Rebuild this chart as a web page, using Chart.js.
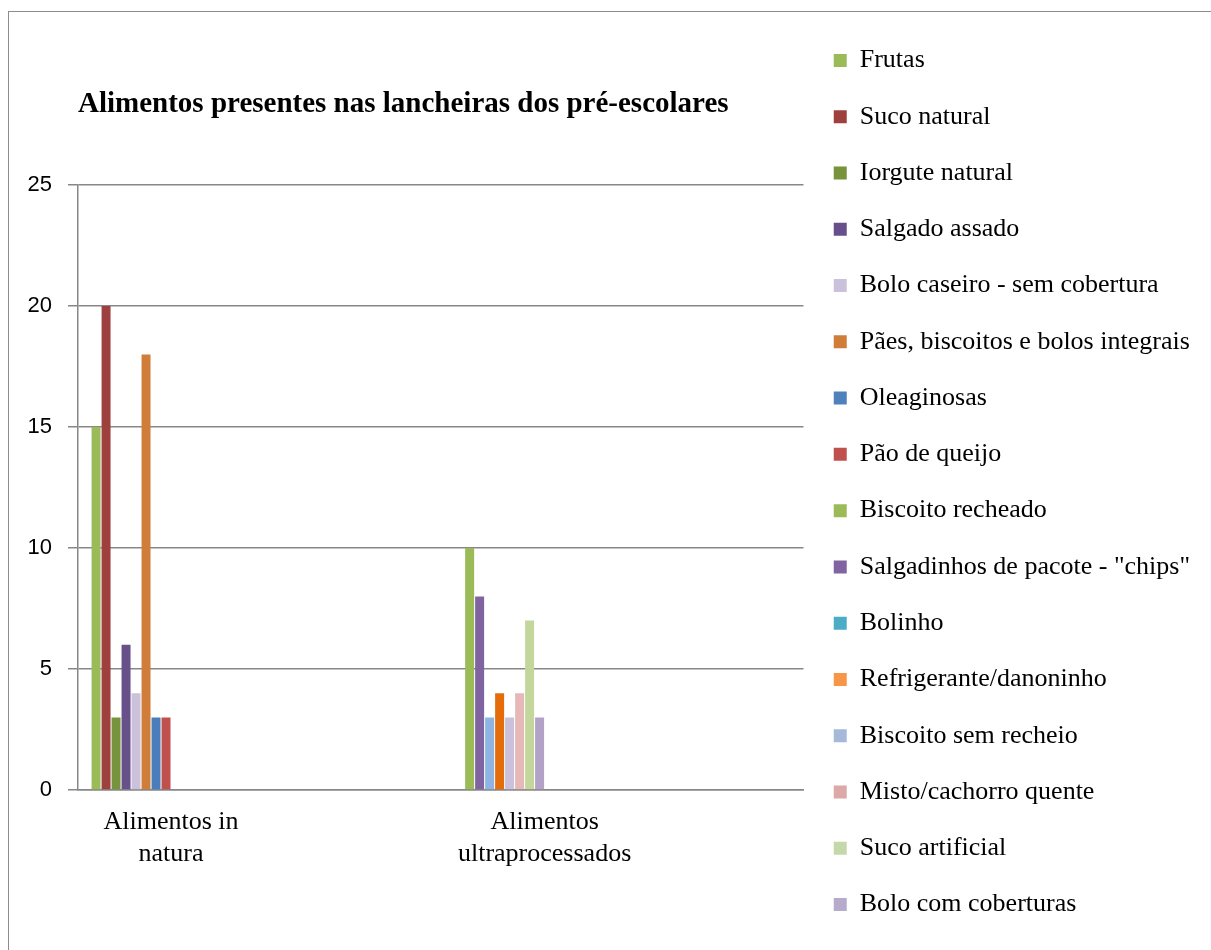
<!DOCTYPE html>
<html>
<head>
<meta charset="utf-8">
<title>Alimentos presentes nas lancheiras dos pré-escolares</title>
<script src="https://cdn.jsdelivr.net/npm/chart.js@4.4.1/dist/chart.umd.min.js"></script>
<style>
	html, body { margin: 0; padding: 0; background: #fff; overflow: hidden; }
	#wrap { position: relative; width: 1211px; height: 950px; }
	#frame { position: absolute; left: 8px; top: 11px; right: -20px; bottom: -20px;
		border-left: 1.5px solid #8c8c8c; border-top: 1.5px solid #8c8c8c; pointer-events: none; }
</style>
</head>
<body>
<div id="wrap">
	<div id="frame"></div>
	<canvas id="lancheiras"></canvas>
</div>
<script>
	'use strict';

	// Chart data
	const chartTitle = 'Alimentos presentes nas lancheiras dos pré-escolares';
	const categories = [ [ 'Alimentos in', 'natura' ], [ 'Alimentos', 'ultraprocessados' ] ];
	const seriesNames = [
		'Frutas', 'Suco natural', 'Iorgute natural', 'Salgado assado',
		'Bolo caseiro - sem cobertura', 'Pães, biscoitos e bolos integrais', 'Oleaginosas', 'Pão de queijo',
		'Biscoito recheado', 'Salgadinhos de pacote - "chips"', 'Bolinho', 'Refrigerante/danoninho',
		'Biscoito sem recheio', 'Misto/cachorro quente', 'Suco artificial', 'Bolo com coberturas'
	];
	const inNatura         = [ 15, 20, 3, 6, 4, 18, 3, 3, null, null, null, null, null, null, null, null ];
	const ultraprocessados = [ null, null, null, null, null, null, null, null, 10, 8, 3, 4, 3, 4, 7, 3 ];
	const yTickValues = [ 0, 5, 10, 15, 20, 25 ];

	const barColors = [
		'#9BBB59', '#9E413E', '#77933C', '#68508A', '#CCC1DA', '#D07D3A', '#4A7EBB', '#C0504D',
		'#9BBB59', '#8064A2', '#8EB4E3', '#E46C0A', '#CCC1DA', '#E6B9B8', '#C3D69B', '#B3A2C7'
	];
	const legendColors = [
		'#9BBB59', '#9E413E', '#77933C', '#664F8B', '#CCC1DA', '#D07D3A', '#4F81BD', '#C0504D',
		'#9BBB59', '#8064A2', '#4BACC6', '#F79646', '#A7B9DB', '#DBA9A8', '#C5D8AA', '#B7ABCB'
	];

	const serif = "'Liberation Serif', 'Times New Roman', serif";
	const sans = "'Liberation Sans', Arial, sans-serif";
	const lineGray = '#878787';

	// one dataset per food, x is the category index
	let datasets = seriesNames.map( function( name, s ) {
		return {
			label: name,
			data: [ inNatura[s], ultraprocessados[s] ].map( function( v, i ) {
				return { x: i, y: v };
			}),
			backgroundColor: barColors[s],
			borderWidth: 0
		};
	});

	let ctx = document.getElementById( 'lancheiras' );
	let myChart = new Chart( ctx, {
		type: 'bar',
		data: { datasets: datasets },
		options: {
			responsive: true,
			maintainAspectRatio: false,
			animation: false,
			layout: { padding: { top: 15, right: 11, bottom: 0, left: 0 } },
			datasets: {
				bar: {
					skipNull: true,
					categoryPercentage: 0.214,
					barPercentage: 0.9
				}
			},
			scales: {
				x: {
					type: 'linear',
					position: 'bottom',
					min: -0.142,
					max: 1.8,
					offset: false,
					grid: { display: false, drawTicks: false },
					border: { display: true, color: lineGray, width: 1.5 },
					afterBuildTicks: function( scale ) {
						scale.ticks = categories.map( function( c, i ) { return { value: i }; } );
					},
					afterFit: function( scale ) { scale.height = 160; },
					ticks: {
						autoSkip: false,
						maxRotation: 0,
						labelOffset: 40,
						padding: 17,
						color: '#000',
						font: { family: serif, size: 26, lineHeight: 1.2 },
						callback: function( value ) { return categories[value]; }
					}
				},
				y: {
					min: yTickValues[0],
					max: yTickValues[yTickValues.length - 1],
					grid: { color: lineGray, lineWidth: 1.5, tickLength: 10, drawTicks: true },
					border: { display: true, color: lineGray, width: 1.5 },
					afterFit: function( scale ) { scale.width = 78; },
					ticks: {
						stepSize: yTickValues[1] - yTickValues[0],
						padding: 16,
						color: '#000',
						font: { family: sans, size: 22 }
					}
				}
			},
			plugins: {
				tooltip: { enabled: false },
				title: {
					display: true,
					text: chartTitle,
					align: 'start',
					fullSize: false,
					color: '#000',
					font: { family: serif, size: 29, weight: 'bold', lineHeight: 1.2 },
					padding: { top: 72, bottom: 63.2 }
				},
				legend: {
					position: 'right',
					align: 'center',
					maxWidth: 440,
					labels: {
						boxWidth: 13,
						boxHeight: 13,
						padding: 30.27,
						color: '#000',
						font: { family: serif, size: 26 },
						generateLabels: function( chart ) {
							let items = Chart.defaults.plugins.legend.labels.generateLabels( chart );
							return items.map( function( item, i ) {
								item.fillStyle = legendColors[i];
								item.strokeStyle = legendColors[i];
								item.lineWidth = 0;
								return item;
							});
						}
					}
				}
			}
		}
	});
</script>
</body>
</html>
